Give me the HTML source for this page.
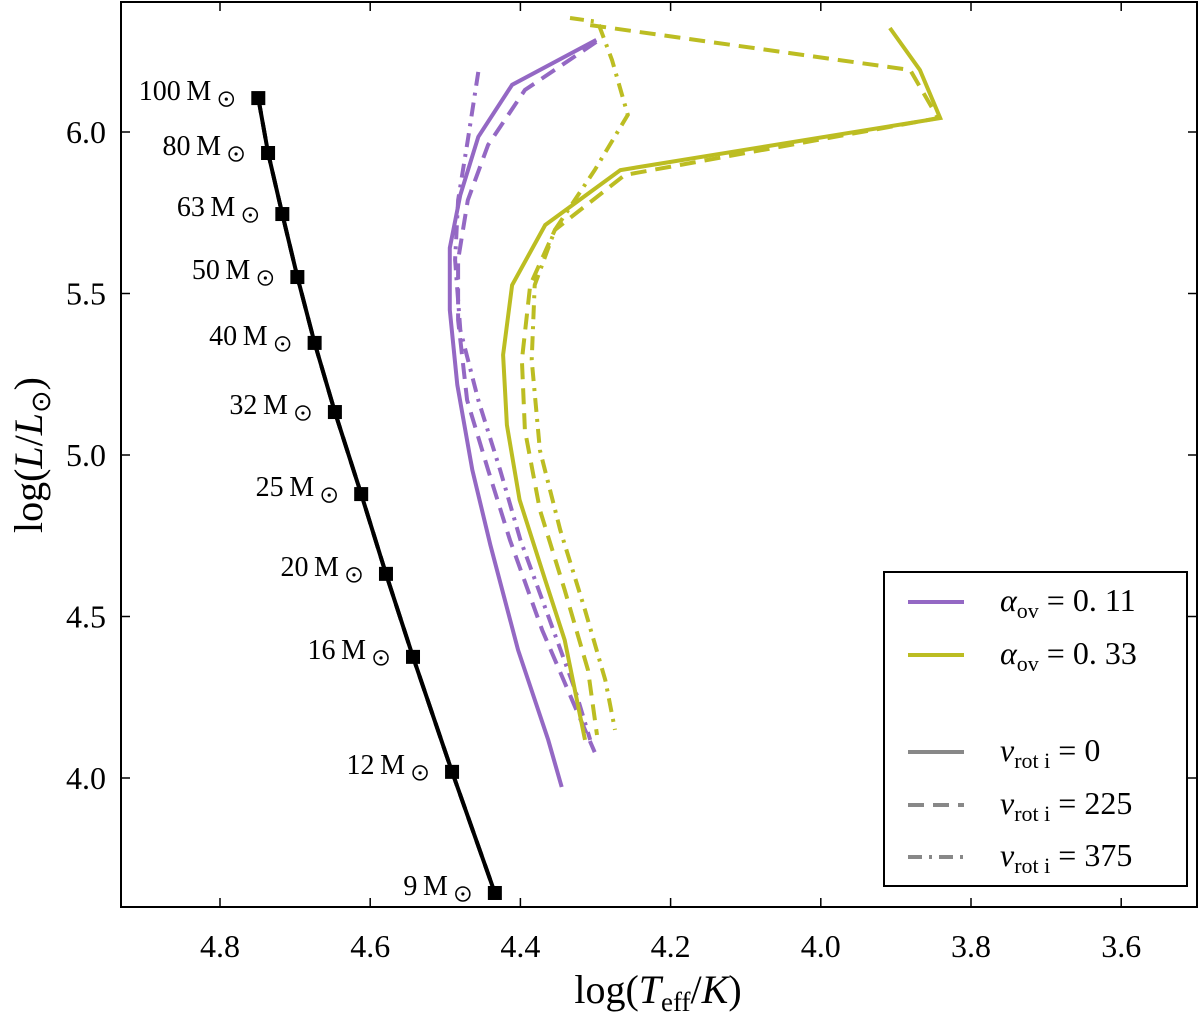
<!DOCTYPE html>
<html><head><meta charset="utf-8"><style>
body{margin:0;background:#fff}
svg{display:block;font-family:"Liberation Serif",serif}
</style></head><body>
<svg id="c" width="1200" height="1015" viewBox="0 0 1200 1015"></svg>
<script>
const xTicks=[4.8,4.6,4.4,4.2,4.0,3.8,3.6];
const yTicks=[4.0,4.5,5.0,5.5,6.0];
const massLabels=["100","80","63","50","40","32","25","20","16","12","9"];
const zamsT=[4.749,4.736,4.717,4.697,4.674,4.647,4.612,4.579,4.543,4.491,4.434];
const zamsL=[6.105,5.935,5.746,5.551,5.347,5.133,4.879,4.632,4.375,4.019,3.644];
const p0T=[4.299,4.411,4.456,4.480,4.494,4.494,4.484,4.464,4.440,4.403,4.363,4.345];
const p0L=[6.285,6.146,5.985,5.805,5.641,5.449,5.217,4.954,4.721,4.396,4.118,3.972];
const p1T=[4.299,4.394,4.443,4.470,4.483,4.483,4.471,4.443,4.414,4.371,4.331,4.301];
const p1L=[6.279,6.130,5.960,5.789,5.604,5.418,5.170,4.954,4.737,4.458,4.241,4.080];
const p2T=[4.456,4.470,4.483,4.487,4.480,4.456,4.427,4.400,4.361,4.327,4.307];
const p2L=[6.186,5.975,5.789,5.604,5.387,5.170,4.954,4.737,4.489,4.272,4.118];
const o0T=[3.908,3.868,3.841,4.267,4.367,4.411,4.423,4.418,4.401,4.367,4.341,4.314];
const o0L=[6.322,6.192,6.043,5.882,5.712,5.526,5.310,5.093,4.861,4.613,4.427,4.118];
const o1T=[4.307,3.881,3.844,4.261,4.354,4.387,4.398,4.394,4.374,4.341,4.310,4.298];
const o1L=[6.331,6.192,6.043,5.867,5.697,5.526,5.294,5.077,4.830,4.582,4.334,4.133];
const o2T=[4.334,4.297,4.278,4.257,4.301,4.354,4.381,4.385,4.374,4.347,4.314,4.287,4.274];
const o2L=[6.353,6.341,6.223,6.053,5.882,5.697,5.526,5.294,5.015,4.768,4.520,4.303,4.149];

const NS="http://www.w3.org/2000/svg";
const svg=document.getElementById('c');
const X=v=>220+(4.8-v)*751;
const Y=v=>132-(v-6.0)*323;
function el(t,a,p){const e=document.createElementNS(NS,t);for(const k in a)e.setAttribute(k,a[k]);(p||svg).appendChild(e);return e;}
const PUR="#9468c4",OLI="#bcbd22";
const dashes={solid:"",dash:"16,9",dashdot:"14,7,3,7"};
function line(T,L,col,style,name){
  const d=T.map((t,i)=>(i?'L':'M')+X(t).toFixed(1)+','+Y(L[i]).toFixed(1)).join('');
  const p=el('path',{d:d,fill:'none',stroke:col,'stroke-width':4,'stroke-dasharray':dashes[style],'stroke-linejoin':'miter'});
  
  
}
xTicks.forEach(v=>{
  el('line',{x1:X(v),x2:X(v),y1:907,y2:898,stroke:'#000','stroke-width':1.5});
  el('line',{x1:X(v),x2:X(v),y1:2,y2:11,stroke:'#000','stroke-width':1.5});
  const t=el('text',{x:X(v),y:957,'font-size':32,'text-anchor':'middle'});t.textContent=v.toFixed(1);
  
  
});
yTicks.forEach(v=>{
  el('line',{x1:121,x2:130,y1:Y(v),y2:Y(v),stroke:'#000','stroke-width':1.5});
  el('line',{x1:1197,x2:1188,y1:Y(v),y2:Y(v),stroke:'#000','stroke-width':1.5});
  const t=el('text',{x:106,y:Y(v)+11,'font-size':32,'text-anchor':'end'});t.textContent=v.toFixed(1);
  
  
});
line(p0T,p0L,PUR,'solid','purple-vrot0');
line(p1T,p1L,PUR,'dash','purple-vrot225');
line(p2T,p2L,PUR,'dashdot','purple-vrot375');
line(o0T,o0L,OLI,'solid','olive-vrot0');
line(o1T,o1L,OLI,'dash','olive-vrot225');
line(o2T,o2L,OLI,'dashdot','olive-vrot375');
line(zamsT,zamsL,'#000','solid','zams-line');
line(zamsT,zamsL,'#000','dash','zams-line-dashed');
zamsT.forEach((t,i)=>{
  const r=el('rect',{x:X(t)-7,y:Y(zamsL[i])-7,width:14,height:14,fill:'#000'});
  
  
  const tx=el('text',{x:X(t)-47,y:Y(zamsL[i])+2,'font-size':28,'text-anchor':'end'});
  tx.textContent=massLabels[i]+'\u2009M';
  
  
  el('circle',{cx:X(t)-32,cy:Y(zamsL[i])+1,r:7,fill:'none',stroke:'#000','stroke-width':1.5});
  el('circle',{cx:X(t)-32,cy:Y(zamsL[i])+1,r:1.6,fill:'#000'});
});
const f=el('rect',{x:121,y:2,width:1076,height:905,fill:'none',stroke:'#000','stroke-width':2});


const xt=el('text',{x:658,y:1003,'font-size':40,'text-anchor':'middle'});
xt.innerHTML='log(<tspan font-style="italic">T</tspan><tspan font-size="27" dy="8">eff</tspan><tspan dy="-8">/</tspan><tspan font-style="italic">K</tspan>)';


const yt=el('text',{x:0,y:0,'font-size':40,'text-anchor':'middle',transform:'translate(42,455) rotate(-90)'});
yt.innerHTML='log(<tspan font-style="italic">L</tspan>/<tspan font-style="italic">L</tspan><tspan font-size="27" dy="8">⊙</tspan><tspan dy="-8">)</tspan>';


const lg=el('g',{});


el('rect',{x:884,y:572,width:303,height:314,fill:'#fff',stroke:'#000','stroke-width':2},lg);
const ents=[[602,PUR,'solid','<tspan font-style="italic">α</tspan><tspan font-size="22" dy="7">ov</tspan><tspan dy="-7"> = 0. 11</tspan>'],
[655,OLI,'solid','<tspan font-style="italic">α</tspan><tspan font-size="22" dy="7">ov</tspan><tspan dy="-7"> = 0. 33</tspan>'],
[752,'#888','solid','<tspan font-style="italic">v</tspan><tspan font-size="22" dy="7">rot i</tspan><tspan dy="-7"> = 0</tspan>'],
[805,'#888','dash','<tspan font-style="italic">v</tspan><tspan font-size="22" dy="7">rot i</tspan><tspan dy="-7"> = 225</tspan>'],
[857,'#888','dashdot','<tspan font-style="italic">v</tspan><tspan font-size="22" dy="7">rot i</tspan><tspan dy="-7"> = 375</tspan>']];
ents.forEach(e=>{
  const g=el('g',{},lg);
  
  
  el('line',{x1:908,x2:964,y1:e[0],y2:e[0],stroke:e[1],'stroke-width':4,'stroke-dasharray':dashes[e[2]]},g);
  const t=el('text',{x:1000,y:e[0]+9,'font-size':32},g);t.innerHTML=e[3];
});
</script>
</body></html>
